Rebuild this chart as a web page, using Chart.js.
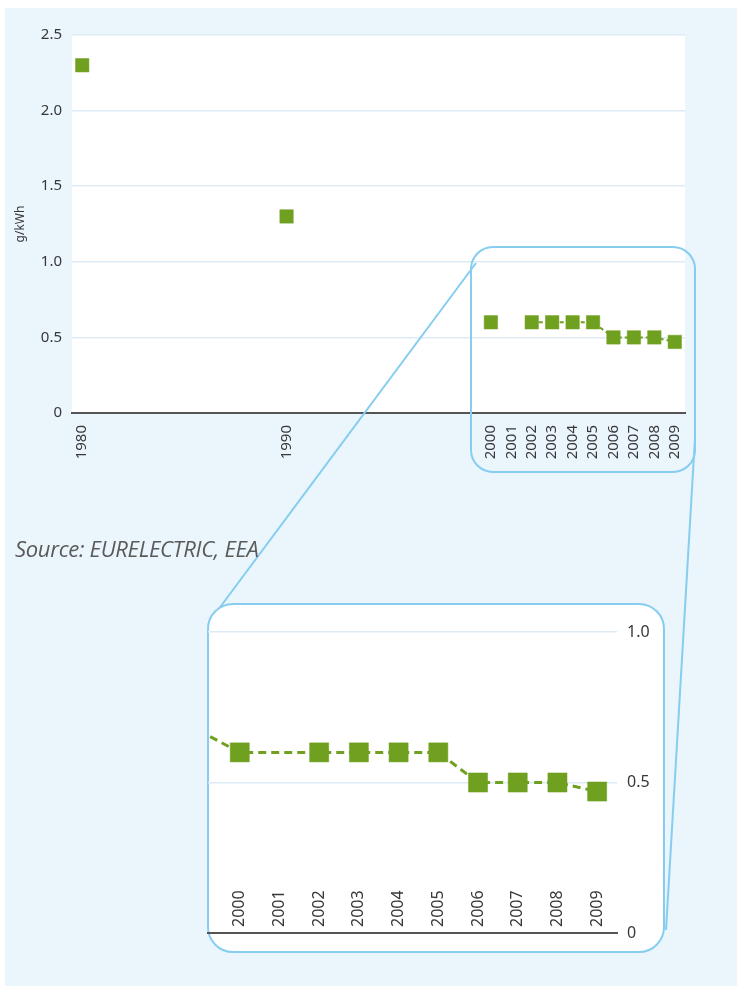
<!DOCTYPE html>
<html lang="en">
<head>
    <meta charset="UTF-8">
    <title>g/kWh 1980-2009</title>
    <script src="https://cdn.jsdelivr.net/npm/chart.js"></script>
    <style>
        body {
            margin: 0;
            background: #fff;
            width: 737px;
            height: 986px;
            position: relative;
            overflow: hidden;
            font-family: "Noto Sans", sans-serif;
        }
        #fondo {
            position: absolute;
            left: 5px; top: 8px;
            width: 732px; height: 978px;
            background: #eaf5fc;
        }
        #mainWrap { position: absolute; left: 0; top: 0; }
        #lineas { position: absolute; left: 0; top: 0; }
        #zoomBox {
            position: absolute;
            left: 207px; top: 603px;
            width: 458px; height: 350px;
            box-sizing: border-box;
            border: 2px solid #86cdef;
            border-radius: 26px;
            background: #fff;
        }
        #zoomWrap { position: absolute; left: 207px; top: 603px; }
        #fuente {
            position: absolute;
            left: 15px; top: 533px;
            font-family: "Open Sans", sans-serif;
            font-style: italic;
            font-size: 22px;
            letter-spacing: -0.3px;
            color: #5a5a5a;
        }
    </style>
</head>
<body>
    <div id="fondo"></div>

    <div id="mainWrap">
        <canvas id="mainChart" width="737" height="480"></canvas>
    </div>

    <!-- recuadro de zoom y lineas que lo conectan -->
    <svg id="lineas" width="737" height="986">
        <rect x="471" y="247" width="224" height="225" rx="22" ry="22"
              fill="none" stroke="#86cdef" stroke-width="2"/>
        <line x1="476" y1="263" x2="218" y2="610" stroke="#86cdef" stroke-width="2"/>
        <line x1="695" y1="438" x2="666" y2="930" stroke="#86cdef" stroke-width="2"/>
    </svg>

    <div id="fuente">Source: EURELECTRIC, EEA</div>

    <div id="zoomBox"></div>
    <div id="zoomWrap">
        <canvas id="zoomChart" width="458" height="350"></canvas>
    </div>

    <script>
        // datos
        const anios = [1980, 1990, 2000, 2001, 2002, 2003, 2004, 2005, 2006, 2007, 2008, 2009];
        const valores = [2.3, 1.3, 0.6, null, 0.6, 0.6, 0.6, 0.6, 0.5, 0.5, 0.5, 0.47];
        const aniosZoom = [2000, 2001, 2002, 2003, 2004, 2005, 2006, 2007, 2008, 2009];
        const ticksY = [0, 0.5, 1.0, 1.5, 2.0, 2.5];
        const ticksYZoom = [0, 0.5, 1.0];

        const verde = '#70a020';
        const gris = '#383838';
        const grilla = '#dcebf6';

        Chart.defaults.font.family = '"Noto Sans", sans-serif';
        Chart.defaults.color = gris;

        const puntos = anios.map((a, i) => ({ x: a, y: valores[i] }));
        const fmt = v => v === 0 ? '0' : v.toFixed(1);

        // fondo blanco del area de trazado
        const fondoBlanco = {
            id: 'fondoBlanco',
            beforeDraw(chart) {
                const { ctx, chartArea: a } = chart;
                ctx.save();
                ctx.fillStyle = '#fff';
                ctx.fillRect(a.left, a.top, a.right - a.left, a.bottom - a.top);
                ctx.restore();
            }
        };

        // etiquetas de años dentro del grafico ampliado
        const etiquetasDentro = {
            id: 'etiquetasDentro',
            afterDraw(chart) {
                const { ctx, scales: { x }, chartArea } = chart;
                ctx.save();
                ctx.font = '16px "Noto Sans"';
                ctx.fillStyle = gris;
                ctx.textAlign = 'left';
                ctx.textBaseline = 'middle';
                aniosZoom.forEach(a => {
                    ctx.save();
                    ctx.translate(x.getPixelForValue(a), chartArea.bottom - 6);
                    ctx.rotate(-Math.PI / 2);
                    ctx.fillText(String(a), 0, 0);
                    ctx.restore();
                });
                ctx.restore();
            }
        };

        new Chart(document.getElementById('mainChart'), {
            type: 'line',
            data: {
                datasets: [{
                    data: puntos,
                    borderColor: verde,
                    borderWidth: 2,
                    borderDash: [4, 3],
                    spanGaps: false,
                    segment: {
                        borderColor: c => c.p0.parsed.x < 2002 ? 'transparent' : verde
                    },
                    pointStyle: 'rect',
                    pointRadius: 9.5,
                    pointBackgroundColor: verde,
                    pointBorderColor: verde,
                    pointBorderWidth: 0.5
                }]
            },
            options: {
                responsive: false,
                animation: false,
                devicePixelRatio: 1,
                layout: { autoPadding: false, padding: { left: 0, top: 35, right: 52, bottom: 0 } },
                plugins: { legend: { display: false }, tooltip: { enabled: false } },
                scales: {
                    x: {
                        type: 'linear',
                        min: 1979.5,
                        max: 2009.5,
                        afterBuildTicks: s => { s.ticks = anios.map(v => ({ value: v })); },
                        afterFit: s => { s.height = 67; },
                        grid: { display: false },
                        border: { color: '#555', width: 2 },
                        ticks: {
                            autoSkip: false,
                            minRotation: 90,
                            maxRotation: 90,
                            padding: 4,
                            font: { size: 15 },
                            callback: v => String(v)
                        }
                    },
                    y: {
                        min: 0,
                        max: 2.5,
                        afterBuildTicks: s => { s.ticks = ticksY.map(v => ({ value: v })); },
                        afterFit: s => { s.width = 72; },
                        grid: { color: grilla, lineWidth: 1.5, drawTicks: false },
                        border: { display: false },
                        ticks: { padding: 10, font: { size: 15 }, callback: fmt },
                        title: {
                            display: true,
                            text: 'g/kWh',
                            font: { size: 12 },
                            padding: { top: 13, bottom: 0 }
                        }
                    }
                }
            },
            plugins: [fondoBlanco]
        });

        new Chart(document.getElementById('zoomChart'), {
            type: 'line',
            data: {
                datasets: [{
                    data: puntos,
                    clip: 1,
                    borderColor: verde,
                    borderWidth: 3,
                    borderDash: [8, 5],
                    spanGaps: true,
                    pointStyle: 'rect',
                    pointRadius: 13.5,
                    pointBackgroundColor: verde,
                    pointBorderColor: verde,
                    pointBorderWidth: 0.5
                }]
            },
            options: {
                responsive: false,
                animation: false,
                devicePixelRatio: 1,
                layout: { autoPadding: false, padding: { left: 1, top: 29, right: 0, bottom: 20 } },
                plugins: { legend: { display: false }, tooltip: { enabled: false } },
                scales: {
                    x: {
                        type: 'linear',
                        min: 1999.2,
                        max: 2009.5,
                        afterFit: s => { s.height = 0; },
                        grid: { display: false },
                        border: { color: '#555', width: 2 },
                        ticks: { display: false }
                    },
                    y: {
                        position: 'right',
                        min: 0,
                        max: 1.0,
                        afterBuildTicks: s => { s.ticks = ticksYZoom.map(v => ({ value: v })); },
                        afterFit: s => { s.width = 48; },
                        grid: { color: grilla, lineWidth: 1.5, drawTicks: false },
                        border: { display: false },
                        ticks: { padding: 10, font: { size: 16 }, callback: fmt }
                    }
                }
            },
            plugins: [etiquetasDentro]
        });
    </script>
</body>
</html>
